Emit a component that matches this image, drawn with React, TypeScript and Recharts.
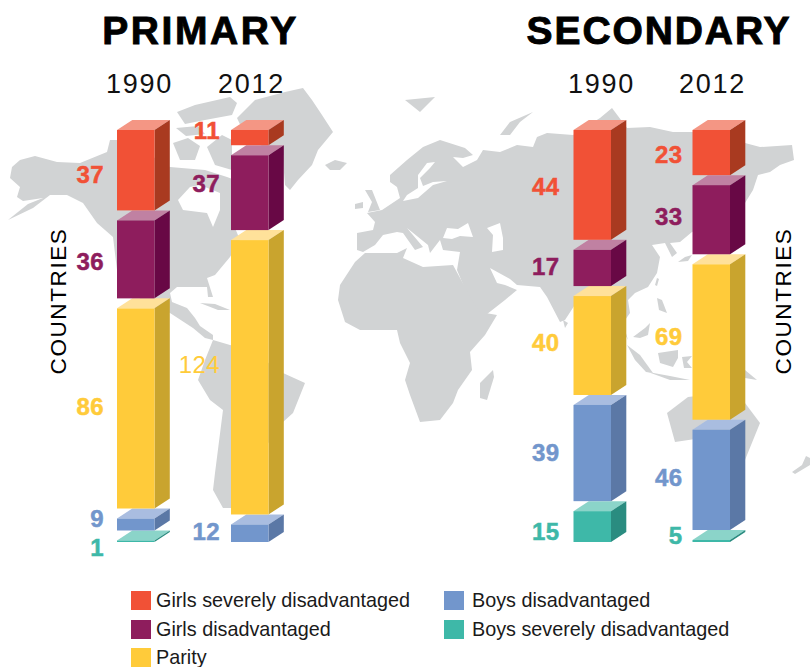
import React from 'react';
import { BarChart, Bar, XAxis, YAxis, Legend } from 'recharts';

const years = ['1990', '2012'];
const girlsSevere = { primary: [37, 11], secondary: [44, 23] };
const girls = { primary: [36, 37], secondary: [17, 33] };
const parity = { primary: [86, 124], secondary: [40, 69] };
const boys = { primary: [9, 12], secondary: [39, 46] };
const boysSevere = { primary: [1, 0], secondary: [15, 5] };

const SERIES = [
  { key: 'Boys severely disadvantaged', src: boysSevere, front: '#3eb8a8', top: '#8bd4c9', side: '#2a8c80' },
  { key: 'Boys disadvantaged', src: boys, front: '#7296cc', top: '#a9bde0', side: '#5b78a6' },
  { key: 'Parity', src: parity, front: '#ffcb3a', top: '#ffe19a', side: '#c9a42e' },
  { key: 'Girls disadvantaged', src: girls, front: '#8e1d5d', top: '#c081a2', side: '#680845' },
  { key: 'Girls severely disadvantaged', src: girlsSevere, front: '#f15136', top: '#f49684', side: '#a93a20' },
];

const toRows = (level: 'primary' | 'secondary') =>
  years.map((year, i) => {
    const row: Record<string, any> = { year };
    SERIES.forEach((s) => { row[s.key] = s.src[level][i]; });
    return row;
  });

const PLOT_TOP = 120;
const PLOT_H = 422;
const DX = 15.3;
const DY = 10;
const MIN_SLOT = 11.5;

// Label tweaks, keyed level-year-value: vertical offset from the front face centre.
const labelDy: Record<string, number> = {
  'primary-1990-37': 4, 'primary-1990-36': 1.5, 'primary-1990-86': -2.5, 'primary-1990-9': -6.5, 'primary-1990-1': 6,
  'primary-2012-11': -7.6, 'primary-2012-37': -9, 'primary-2012-124': -13, 'primary-2012-12': -2,
  'secondary-1990-44': 1, 'secondary-1990-17': -2, 'secondary-1990-40': -3.6, 'secondary-1990-39': -1, 'secondary-1990-15': 4.4,
  'secondary-2012-23': 2, 'secondary-2012-33': -3, 'secondary-2012-69': -6, 'secondary-2012-46': -3, 'secondary-2012-5': -6,
};
const labelGap: Record<string, number> = { 'primary-1990': 13, 'primary-2012': 11, 'secondary-1990': 14, 'secondary-2012': 10 };
const yearDx: Record<string, number> = { 'primary-1990': 3.5, 'primary-2012': 1.5, 'secondary-1990': 9.5, 'secondary-2012': 1.5 };

const Box = (props: any) => {
  const { x, y, width, height, payload, level, skey, front, top, side } = props;
  const value = payload[skey];
  if (!value) return null;
  const total = SERIES.reduce((a, s) => a + payload[s.key], 0);
  const bottomValue = SERIES.map((s) => payload[s.key]).find((v) => v > 0) as number;
  const bottomSlot = (bottomValue / total) * PLOT_H;
  // A very thin bottom segment keeps room for its top face; the rest of the stack is squeezed to suit.
  const f = bottomSlot < MIN_SLOT ? (PLOT_H - MIN_SLOT) / (PLOT_H - bottomSlot) : 1;
  const isBottom = value === bottomValue && SERIES.find((s) => payload[s.key] > 0)!.key === skey;
  const map = (p: number) => PLOT_TOP + (p - PLOT_TOP) * f;
  const bottomPx = isBottom ? y + height : map(y + height);
  const slotTop = isBottom && f !== 1 ? PLOT_TOP + PLOT_H - MIN_SLOT : map(y);
  const fy = slotTop + DY;
  const r = x + width;
  const id = `${level}-${payload.year}-${value}`;
  const cy = (fy + bottomPx) / 2 + (labelDy[id] ?? 0);
  const thin = id === 'primary-2012-124';
  return (
    <g>
      <polygon points={`${x},${fy} ${r},${fy} ${r + DX},${fy - DY} ${x + DX},${fy - DY}`} fill={top} />
      <polygon points={`${r},${fy} ${r + DX},${fy - DY} ${r + DX},${bottomPx - DY} ${r},${bottomPx}`} fill={side} />
      <rect x={x} y={fy} width={width} height={Math.max(bottomPx - fy, 0)} fill={front} />
      <text
        x={x - labelGap[`${level}-${payload.year}`]}
        y={cy}
        dy="0.36em"
        textAnchor="end"
        fontFamily="'Liberation Sans', sans-serif"
        fontWeight={thin ? 400 : 700}
        fontSize={24}
        letterSpacing={0.4}
        stroke={thin ? 'none' : front}
        strokeWidth={thin ? 0 : 0.5}
        fill={front}
      >
        {value}
      </text>
    </g>
  );
};

const YearTick = (props: any) => {
  const { x, payload, level } = props;
  return (
    <text
      x={x + yearDx[`${level}-${payload.value}`]}
      y={93}
      textAnchor="middle"
      fontFamily="'Liberation Sans', sans-serif"
      fontSize={27}
      letterSpacing={1.7}
      fill="#111"
    >
      {payload.value}
    </text>
  );
};

const legendItems = [
  { key: 'Girls severely disadvantaged', color: '#f15136', left: 131, top: 591 },
  { key: 'Girls disadvantaged', color: '#8e1d5d', left: 131, top: 620 },
  { key: 'Parity', color: '#ffcb3a', left: 131, top: 648 },
  { key: 'Boys disadvantaged', color: '#7296cc', left: 444, top: 591 },
  { key: 'Boys severely disadvantaged', color: '#3eb8a8', left: 444, top: 620 },
];

const LegendBlock = () => (
  <div style={{ position: 'relative', width: 810, height: 0 }}>
    {legendItems.map((it) => (
      <React.Fragment key={it.key}>
        <div style={{ position: 'absolute', left: it.left, top: it.top, width: 20, height: 19, background: it.color }} />
        <div
          style={{
            position: 'absolute', left: it.left + (it.left > 300 ? 28 : 25), top: it.top - 1, height: 20, lineHeight: '20px',
            whiteSpace: 'nowrap', fontFamily: "'Liberation Sans', sans-serif", fontSize: 19.8, color: '#1a1a1a',
          }}
        >
          {it.key}
        </div>
      </React.Fragment>
    ))}
  </div>
);

const MAP_LAND = [
  // North America
  'M12,167 L20,160 L35,156 L57,162 L80,163 L107,152 L110,140 L125,140 L170,167 L205,170 L227,177 L235,180 L245,195 L252,215 L235,228 L240,240 L230,257 L215,275 L207,278 L213,297 L208,297 L207,287 L177,287 L170,293 L172,302 L187,308 L195,318 L200,326 L213,335 L213,340 L205,338 L193,328 L170,313 L145,305 L125,280 L117,270 L113,237 L97,223 L83,203 L67,195 L50,195 L33,208 L8,220 L28,204 L43,198 L23,201 L17,197 L20,187 L10,178 Z',
  // Arctic islands
  'M177,112 L195,105 L230,97 L237,103 L232,115 L205,120 L185,124 Z',
  'M173,143 L188,138 L200,146 L195,160 L180,160 Z',
  'M207,147 L222,135 L232,140 L232,170 L215,165 Z',
  'M176,128 L198,126 L205,134 L186,136 Z',
  // Greenland
  'M237,118 L255,100 L285,92 L303,88 L312,100 L322,115 L333,132 L318,150 L312,165 L298,180 L290,190 L285,185 L283,160 L268,150 L245,135 Z',
  // Cuba
  'M200,303 L215,304 L230,310 L218,310 Z',
  // South America
  'M213,340 L230,345 L250,350 L283,373 L305,383 L293,413 L283,422 L260,455 L240,490 L232,508 L223,508 L213,490 L215,473 L223,410 L210,400 L198,380 L205,360 Z',
  // Iceland, Britain, Ireland, Svalbard, Novaya Zemlya
  'M325,165 L335,160 L347,163 L340,170 L330,170 Z',
  'M365,190 L372,190 L380,210 L368,212 L372,202 Z',
  'M355,204 L363,202 L363,208 L355,209 Z',
  'M405,100 L435,97 L420,112 Z',
  'M500,135 L510,122 L533,112 L520,122 L510,135 Z',
  // Eurasia
  'M357,250 L357,233 L373,230 L375,222 L367,213 L382,210 L400,198 L397,187 L390,182 L390,175 L407,160 L423,147 L440,140 L465,148 L473,155 L463,158 L453,157 L463,167 L477,160 L483,150 L500,152 L517,145 L533,147 L537,137 L547,133 L573,135 L600,118 L612,108 L627,128 L650,127 L673,132 L700,132 L745,143 L760,147 L792,145 L794,160 L780,165 L770,172 L758,175 L753,190 L745,203 L725,222 L692,232 L680,242 L670,243 L677,253 L672,257 L665,243 L652,245 L660,257 L657,273 L648,287 L635,293 L628,300 L630,313 L623,323 L628,340 L620,325 L612,310 L600,305 L590,310 L578,300 L565,320 L560,322 L547,297 L540,287 L517,285 L510,279 L490,268 L497,283 L505,285 L517,290 L505,300 L482,318 L477,318 L457,270 L460,252 L443,250 L440,240 L430,253 L428,245 L407,228 L423,247 L415,250 L403,233 L397,232 L383,235 L375,245 L363,252 Z',
  // Africa
  'M338,300 L340,285 L355,262 L365,253 L397,253 L407,248 L403,258 L423,267 L453,265 L472,300 L480,312 L497,315 L485,335 L470,352 L472,370 L458,390 L453,403 L440,420 L420,422 L410,395 L405,380 L410,363 L400,343 L397,330 L360,330 L345,322 Z',
  // Madagascar
  'M493,370 L494,377 L487,400 L480,398 L480,383 Z',
  // Sri Lanka, Japan, Taiwan, Philippines
  'M563,320 L568,323 L565,328 Z',
  'M678,262 L685,257 L692,255 L688,261 Z',
  'M657,278 L659,279 L657,286 L655,285 Z',
  'M657,298 L662,300 L667,313 L659,310 Z',
  // South-east Asia
  'M633,337 L645,328 L650,323 L648,335 L640,338 Z',
  'M627,345 L640,355 L653,373 L646,372 L635,360 Z',
  'M648,372 L670,376 L690,380 L670,380 Z',
  'M658,353 L678,350 L678,358 L673,367 L660,363 Z',
  'M682,357 L692,356 L687,362 L692,368 L684,368 Z',
  'M745,370 L757,380 L745,378 Z',
  // Australia, New Zealand
  'M667,413 L688,397 L705,395 L745,403 L760,423 L745,460 L725,465 L702,438 L675,442 Z',
  'M792,472 L802,465 L806,456 L810,458 L810,465 L795,474 Z',
];
const MAP_WATER = [
  // Hudson Bay
  'M178,200 L190,187 L200,185 L220,193 L220,210 L213,227 L207,213 L183,210 Z',
  // Baltic
  'M435,162 L427,163 L418,175 L418,188 L407,195 L403,201 L418,198 L433,185 L447,181 L433,182 L423,186 L420,178 L430,168 Z',
  // Black Sea
  'M443,238 L447,228 L458,229 L468,223 L473,237 L460,236 L452,239 Z',
  // Caspian
  'M487,228 L500,223 L503,238 L503,250 L492,252 L493,235 Z',
];

const Backdrop = () => (
  <svg width={810} height={667} style={{ position: 'absolute', left: 0, top: 0 }}>
    {MAP_LAND.map((d, i) => <path key={i} d={d} fill="#d1d3d4" />)}
    {MAP_WATER.map((d, i) => <path key={i} d={d} fill="#fff" />)}
    <g fontFamily="'Liberation Sans', sans-serif" fill="#000">
      <text x={200.5} y={44} textAnchor="middle" fontSize={39} fontWeight={700} letterSpacing={2.6} stroke="#000" strokeWidth={0.9}>PRIMARY</text>
      <text x={659} y={44} textAnchor="middle" fontSize={39} fontWeight={700} letterSpacing={1.9} stroke="#000" strokeWidth={0.9}>SECONDARY</text>
      <text transform="translate(66,301) rotate(-90)" textAnchor="middle" fontSize={22.5} letterSpacing={1.6}>COUNTRIES</text>
      <text transform="translate(791,301) rotate(-90)" textAnchor="middle" fontSize={22.5} letterSpacing={1.6}>COUNTRIES</text>
    </g>
  </svg>
);

const StackChart = ({ level, left, right, legend }: { level: 'primary' | 'secondary'; left: number; right: number; legend?: boolean }) => (
  <div style={{ position: 'absolute', left: 0, top: 0 }}>
    <BarChart
      width={810}
      height={667}
      data={toRows(level)}
      stackOffset="expand"
      barSize={37.5}
      margin={{ top: 90, bottom: 125, left, right }}
    >
      <XAxis dataKey="year" orientation="top" height={30} axisLine={false} tickLine={false} interval={0} tick={<YearTick level={level} />} />
      <YAxis hide domain={[0, 1]} />
      {legend && (
        <Legend
          content={<LegendBlock />}
          wrapperStyle={{ left: 0, top: 0, bottom: 'auto', width: 810, height: 0 }}
        />
      )}
      {SERIES.map((s) => (
        <Bar
          key={s.key}
          dataKey={s.key}
          stackId="a"
          isAnimationActive={false}
          shape={<Box level={level} skey={s.key} front={s.front} top={s.top} side={s.side} />}
        />
      ))}
    </BarChart>
  </div>
);

export default function App() {
  return (
    <div style={{ position: 'absolute', left: 0, top: 0, width: 810, height: 667, background: '#fff', overflow: 'hidden' }}>
      <Backdrop />
      <StackChart level="primary" left={79} right={503} legend />
      <StackChart level="secondary" left={532.5} right={39.5} />
    </div>
  );
}
